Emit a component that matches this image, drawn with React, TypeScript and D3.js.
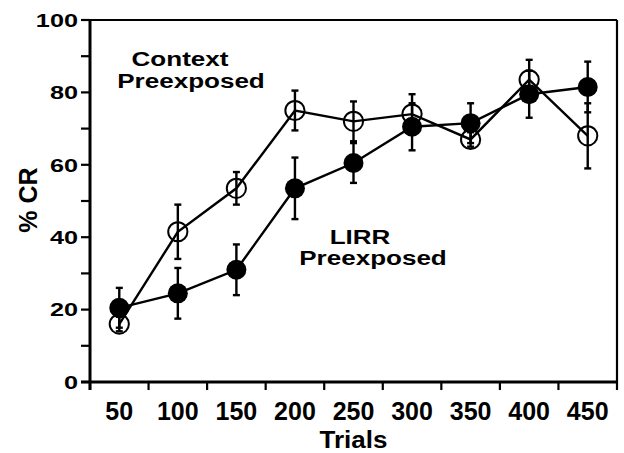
import React from "react";
import * as d3 from "d3";

const trials = ["50", "100", "150", "200", "250", "300", "350", "400", "450"];
const contextMean = [16, 41.5, 53.5, 75, 72, 74, 67, 83.5, 68];
const contextErr = [2, 7.5, 4.5, 5.5, 5.5, 5.5, 2, 5.5, 9];
const lirrMean = [20.5, 24.5, 31, 53.5, 60.5, 70.5, 71.5, 79.5, 81.5];
const lirrErr = [5.5, 7, 7, 8.5, 5.5, 6.5, 5.5, 6.5, 7];
const yTicks = [0, 10, 20, 30, 40, 50, 60, 70, 80, 90, 100];
const yTickLabels = [0, 20, 40, 60, 80, 100];

const W = 624;
const H = 453;
const L = 90, R = 617, T = 20, B = 382;
const FONT = "'Liberation Sans', Arial, Helvetica, sans-serif";

export default function App() {
  const x = d3.scaleBand<string>().domain(trials).range([L, R]).padding(0);
  const y = d3.scaleLinear().domain([0, 100]).range([B, T]);
  const cx = (t: string) => (x(t) as number) + x.bandwidth() / 2;

  const ctx = trials.map((t, i) => ({ t, v: contextMean[i], e: contextErr[i] }));
  const lir = trials.map((t, i) => ({ t, v: lirrMean[i], e: lirrErr[i] }));
  const line = d3
    .line<{ t: string; v: number }>()
    .x((d) => cx(d.t))
    .y((d) => y(d.v));

  const xEdges = [...trials.map((t) => x(t) as number), R];

  const errBars = (data: { t: string; v: number; e: number }[], key: string) =>
    data.map((d) => (
      <g key={key + d.t} stroke="#000" strokeWidth={2.4}>
        <line x1={cx(d.t)} x2={cx(d.t)} y1={y(d.v + d.e)} y2={y(d.v - d.e)} />
        <line x1={cx(d.t) - 3.5} x2={cx(d.t) + 3.5} y1={y(d.v + d.e)} y2={y(d.v + d.e)} />
        <line x1={cx(d.t) - 3.5} x2={cx(d.t) + 3.5} y1={y(d.v - d.e)} y2={y(d.v - d.e)} />
      </g>
    ));

  return (
    <svg
      width={W}
      height={H}
      style={{ position: "absolute", left: 0, top: 0, background: "#fff" }}
      fontFamily={FONT}
      fontWeight="bold"
    >
      <rect x={0} y={0} width={W} height={H} fill="#fff" />
      {/* frame */}
      <line x1={L} x2={R} y1={T} y2={T} stroke="#000" strokeWidth={2.2} />
      <line x1={R} x2={R} y1={T} y2={B} stroke="#000" strokeWidth={2.2} />
      <line x1={L} x2={L} y1={T - 1} y2={B + 8} stroke="#000" strokeWidth={3} />
      <line x1={L - 9} x2={R + 1} y1={B} y2={B} stroke="#000" strokeWidth={3} />
      {/* y ticks */}
      {yTicks.map((v) => (
        <line key={"yt" + v} x1={L - 9} x2={L} y1={y(v)} y2={y(v)} stroke="#000" strokeWidth={2.2} />
      ))}
      {yTickLabels.map((v) => (
        <text
          key={"yl" + v}
          transform={`translate(${L - 12},${y(v)}) scale(1.33,1)`}
          textAnchor="end"
          dy="0.36em"
          fontSize={19}
        >
          {v}
        </text>
      ))}
      {/* x ticks */}
      {xEdges.map((e, i) => (
        <line key={"xt" + i} x1={e} x2={e} y1={B} y2={B + 8} stroke="#000" strokeWidth={2.2} />
      ))}
      {trials.map((t) => (
        <text key={"xl" + t} x={cx(t)} y={420} textAnchor="middle" fontSize={25}>
          {t}
        </text>
      ))}
      {/* axis titles */}
      <text transform={`translate(${(L + R) / 2},448) scale(1.13,1)`} textAnchor="middle" fontSize={23}>
        Trials
      </text>
      <text transform="translate(37,200) rotate(-90)" textAnchor="middle" fontSize={25}>
        % CR
      </text>
      {/* annotations */}
      <text transform="translate(180,66) scale(1.24,1)" textAnchor="middle" fontSize={21}>
        Context
      </text>
      <text transform="translate(191,87.5) scale(1.24,1)" textAnchor="middle" fontSize={21}>
        Preexposed
      </text>
      <text transform="translate(360,244) scale(1.24,1)" textAnchor="middle" fontSize={21}>
        LIRR
      </text>
      <text transform="translate(373,265) scale(1.24,1)" textAnchor="middle" fontSize={21}>
        Preexposed
      </text>
      {/* series lines */}
      <path d={line(ctx) || ""} fill="none" stroke="#000" strokeWidth={2.4} />
      <path d={line(lir) || ""} fill="none" stroke="#000" strokeWidth={2.4} />
      {errBars(ctx, "ce")}
      {errBars(lir, "le")}
      {lir.map((d) => (
        <circle key={"lc" + d.t} cx={cx(d.t)} cy={y(d.v)} r={10} fill="#000" />
      ))}
      {ctx.map((d) => (
        <circle key={"cc" + d.t} cx={cx(d.t)} cy={y(d.v)} r={9.6} fill="none" stroke="#000" strokeWidth={2} />
      ))}
    </svg>
  );
}
